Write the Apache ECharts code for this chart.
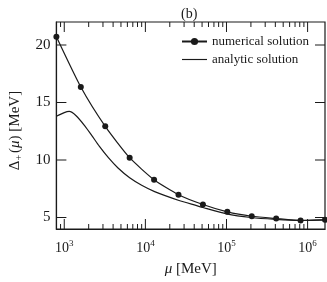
<!DOCTYPE html>
<html>
<head>
<meta charset="utf-8">
<script src="https://cdn.jsdelivr.net/npm/echarts@6/dist/echarts.min.js"></script>
<style>html,body{margin:0;padding:0;background:#fff}#c{width:327px;height:282px}</style>
</head>
<body>
<div id="c"></div>
<script>
var numericalMu = [800, 1600, 3200, 6400, 12800, 25600, 51200, 102400, 204800, 409600, 819200, 1638400];
var numericalDelta = [20.72, 16.35, 12.93, 10.2, 8.28, 6.98, 6.13, 5.49, 5.11, 4.91, 4.74, 4.80];
var analyticMu = [800, 1000, 1150, 1400, 1800, 2200, 2700, 3500, 4600, 6400, 9000, 13000, 26000, 42000, 51200, 100000, 200000, 400000, 800000, 1638400];
var analyticDelta = [13.8, 14.12, 14.22, 13.85, 12.95, 12.1, 11.2, 10.2, 9.3, 8.45, 7.8, 7.25, 6.48, 6.05, 5.87, 5.32, 5.0, 4.84, 4.75, 4.8];
var xMajorTicks = [1000, 10000, 100000, 1000000];
var xMinorTicks = [900, 2000, 3000, 4000, 5000, 6000, 7000, 8000, 9000,
  20000, 30000, 40000, 50000, 60000, 70000, 80000, 90000,
  200000, 300000, 400000, 500000, 600000, 700000, 800000, 900000];
var yTicks = [5, 10, 15, 20];

var F = 'Liberation Serif';
var INK = '#1a1a1a';
function zip(a, b) { return a.map(function (v, i) { return [v, b[i]]; }); }

function tickSeries(values, axis, len) {
  return {
    type: 'custom', xAxisIndex: 0, yAxisIndex: 0, silent: true, clip: false, z: 5,
    data: values.map(function (v) { return axis === 'x' ? [v, 10] : [1000, v]; }),
    renderItem: function (params, api) {
      var cs = params.coordSys;
      var p = api.coord([api.value(0), api.value(1)]);
      var lines;
      if (axis === 'x') {
        lines = [[p[0], cs.y + cs.height, p[0], cs.y + cs.height - len], [p[0], cs.y, p[0], cs.y + len]];
      } else {
        lines = [[cs.x, p[1], cs.x + len, p[1]], [cs.x + cs.width, p[1], cs.x + cs.width - len, p[1]]];
      }
      return {
        type: 'group',
        children: lines.map(function (l) {
          return { type: 'line', shape: { x1: l[0], y1: l[1], x2: l[2], y2: l[3] }, style: { stroke: INK, lineWidth: 1 } };
        })
      };
    }
  };
}

var chart = echarts.init(document.getElementById('c'), null, { renderer: 'canvas' });
chart.setOption({
  animation: false,
  backgroundColor: '#fff',
  title: { text: '(b)', left: 176, top: 2, textStyle: { fontFamily: F, fontSize: 14, fontWeight: 'normal', color: INK } },
  grid: { left: 45, right: 2, top: 22, bottom: 51, show: true, borderColor: INK, borderWidth: 1.2, backgroundColor: 'transparent' },
  legend: {
    left: 181, top: 35, padding: 0, orient: 'vertical', itemWidth: 25, itemHeight: 9, itemGap: 5,
    textStyle: { fontFamily: F, fontSize: 13, color: INK },
    data: [
      { name: 'numerical solution' },
      { name: 'analytic solution', icon: 'path://M0,0L26,0L26,1.2L0,1.2Z' }
    ]
  },
  xAxis: {
    type: 'log', logBase: 10, min: 800, max: 1638400,
    axisLine: { show: true, lineStyle: { color: INK, width: 1.2 } },
    axisTick: { show: false },
    axisLabel: {
      show: true, customValues: xMajorTicks, margin: 10,
      formatter: function (v) { return '{b|10}{s|' + Math.round(Math.log10(v)) + '}'; },
      rich: {
        b: { fontFamily: F, fontSize: 14, color: INK },
        s: { fontFamily: F, fontSize: 9, color: INK, verticalAlign: 'top', padding: [0, 0, 9, 0] }
      }
    },
    splitLine: { show: false },
    name: '{i|μ}{t| [MeV]}',
    nameLocation: 'middle', nameGap: 33,
    nameTextStyle: { rich: { i: { fontFamily: F, fontStyle: 'italic', fontSize: 15, color: INK }, t: { fontFamily: F, fontSize: 15, color: INK } } }
  },
  yAxis: {
    type: 'value', min: 4, max: 22,
    axisLine: { show: true, lineStyle: { color: INK, width: 1.2 } },
    axisTick: { show: false },
    axisLabel: { customValues: yTicks, fontFamily: F, fontSize: 15, color: INK, margin: 6 },
    splitLine: { show: false },
    name: '{a|Δ}{sub|+}{a|(}{i|μ}{a|) [MeV]}', nameLocation: 'middle', nameGap: 29, nameRotate: 90,
    nameTextStyle: {
      padding: [0, 10, 0, 0],
      rich: {
        a: { fontFamily: F, fontSize: 15, color: INK },
        i: { fontFamily: F, fontSize: 15, fontStyle: 'italic', color: INK },
        sub: { fontFamily: F, fontSize: 10, color: INK, verticalAlign: 'bottom', padding: [8, 2, 0, 0] }
      }
    }
  },
  series: [
    {
      name: 'numerical solution', type: 'line',
      data: zip(numericalMu, numericalDelta), smooth: 0.2,
      symbol: 'circle', symbolSize: 6, showSymbol: true,
      lineStyle: { color: INK, width: 1.2 }, itemStyle: { color: INK },
      clip: false, z: 3
    },
    {
      name: 'analytic solution', type: 'line',
      data: zip(analyticMu, analyticDelta), smooth: 0.2,
      symbol: 'none', showSymbol: false,
      lineStyle: { color: INK, width: 1.2 }, itemStyle: { color: INK }, z: 3
    },
    tickSeries(xMajorTicks, 'x', 10),
    tickSeries(xMinorTicks, 'x', 5),
    tickSeries(yTicks, 'y', 10)
  ]
});
</script>
</body>
</html>
